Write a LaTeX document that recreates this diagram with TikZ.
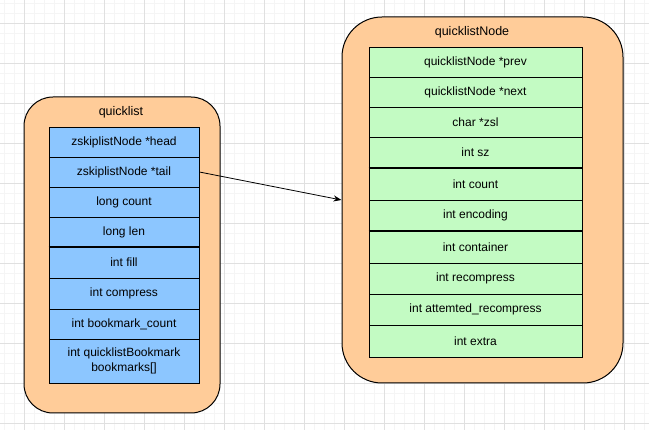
\documentclass[tikz,border=0pt]{standalone}
\usepackage{fontspec}
\setmainfont{Liberation Sans}
\usetikzlibrary{arrows.meta}
\definecolor{orangefill}{HTML}{FFCC99}
\definecolor{bluefill}{HTML}{8CC6FF}
\definecolor{greenfill}{HTML}{C3FBC3}
\definecolor{gridminor}{HTML}{F5F5F5}
\definecolor{gridmajor}{HTML}{E0E0E0}
\tikzset{
  outerbox/.style={draw=black, line width=1pt, fill=orangefill, inner sep=0pt},
  bluerow/.style={draw=black, line width=0.8pt, fill=bluefill, minimum width=150pt, inner sep=0pt, align=center, font=\fontsize{12}{15}\selectfont},
  greenrow/.style={draw=black, line width=0.8pt, fill=greenfill, minimum width=213pt, inner sep=0pt, align=center, font=\fontsize{12}{15}\selectfont},
  titletext/.style={inner sep=0pt, font=\fontsize{12.5}{15}\selectfont},
  thicksep/.style={line width=2pt},
  link/.style={draw=black, line width=0.8pt, -{Stealth[length=8pt,width=6pt]}}
}
\begin{document}
\begin{tikzpicture}[x=1pt,y=-1pt]
\useasboundingbox (0,0) rectangle (649,430);
\fill[white] (0,0) rectangle (649,430);
% grid
\foreach \i in {0,...,64} { \draw[gridminor, line width=0.6pt] (4+10*\i,0) -- (4+10*\i,430); }
\foreach \i in {0,...,42} { \draw[gridminor, line width=0.6pt] (0,3+10*\i) -- (649,3+10*\i); }
\foreach \i in {0,...,15} { \draw[gridmajor, line width=0.8pt] (24+40*\i,0) -- (24+40*\i,430); }
\foreach \i in {0,...,10} { \draw[gridmajor, line width=0.8pt] (0,23+40*\i) -- (649,23+40*\i); }

% left structure
\node[outerbox, rounded corners=29pt, minimum width=196pt, minimum height=316pt] (ql) at (122,255) {};
\node[titletext] (qltitle) at (121,112) {quicklist};
\node[bluerow, minimum height=30pt] (l1) at (124,142) {zskiplistNode *head};
\node[bluerow, minimum height=30pt] (l2) at (124,172) {zskiplistNode *tail};
\node[bluerow, minimum height=30pt] (l3) at (124,202) {long count};
\node[bluerow, minimum height=30pt] (l4) at (124,232) {long len};
\node[bluerow, minimum height=31pt] (l5) at (124,262.5) {int fill};
\node[bluerow, minimum height=31pt] (l6) at (124,293.5) {int compress};
\node[bluerow, minimum height=30pt] (l7) at (124,324) {int bookmark\_count};
\node[bluerow, minimum height=44pt] (l8) at (124,361) {int quicklistBookmark\\bookmarks[]};
\draw[thicksep] (l4.south west) -- (l4.south east);

% right structure
\node[outerbox, rounded corners=40pt, minimum width=281pt, minimum height=366pt] (qln) at (482.5,200) {};
\node[titletext] (qlntitle) at (472,32) {quicklistNode};
\node[greenrow, minimum height=30pt] (r1) at (475.5,62) {quicklistNode *prev};
\node[greenrow, minimum height=30pt] (r2) at (475.5,92) {quicklistNode *next};
\node[greenrow, minimum height=30pt] (r3) at (475.5,122) {char *zsl};
\node[greenrow, minimum height=31pt] (r4) at (475.5,152.5) {int sz};
\node[greenrow, minimum height=32pt] (r5) at (475.5,184) {int count};
\node[greenrow, minimum height=31pt] (r6) at (475.5,215.5) {int encoding};
\node[greenrow, minimum height=32pt] (r7) at (475.5,247) {int container};
\node[greenrow, minimum height=31pt] (r8) at (475.5,278.5) {int recompress};
\node[greenrow, minimum height=31pt] (r9) at (475.5,309.5) {int attemted\_recompress};
\node[greenrow, minimum height=32pt] (r10) at (475.5,341) {int extra};
\draw[thicksep] (r4.south west) -- (r4.south east);
\draw[thicksep] (r6.south west) -- (r6.south east);

% connector
\draw[link] (l2.east) -- (qln.west);
\end{tikzpicture}
\end{document}
